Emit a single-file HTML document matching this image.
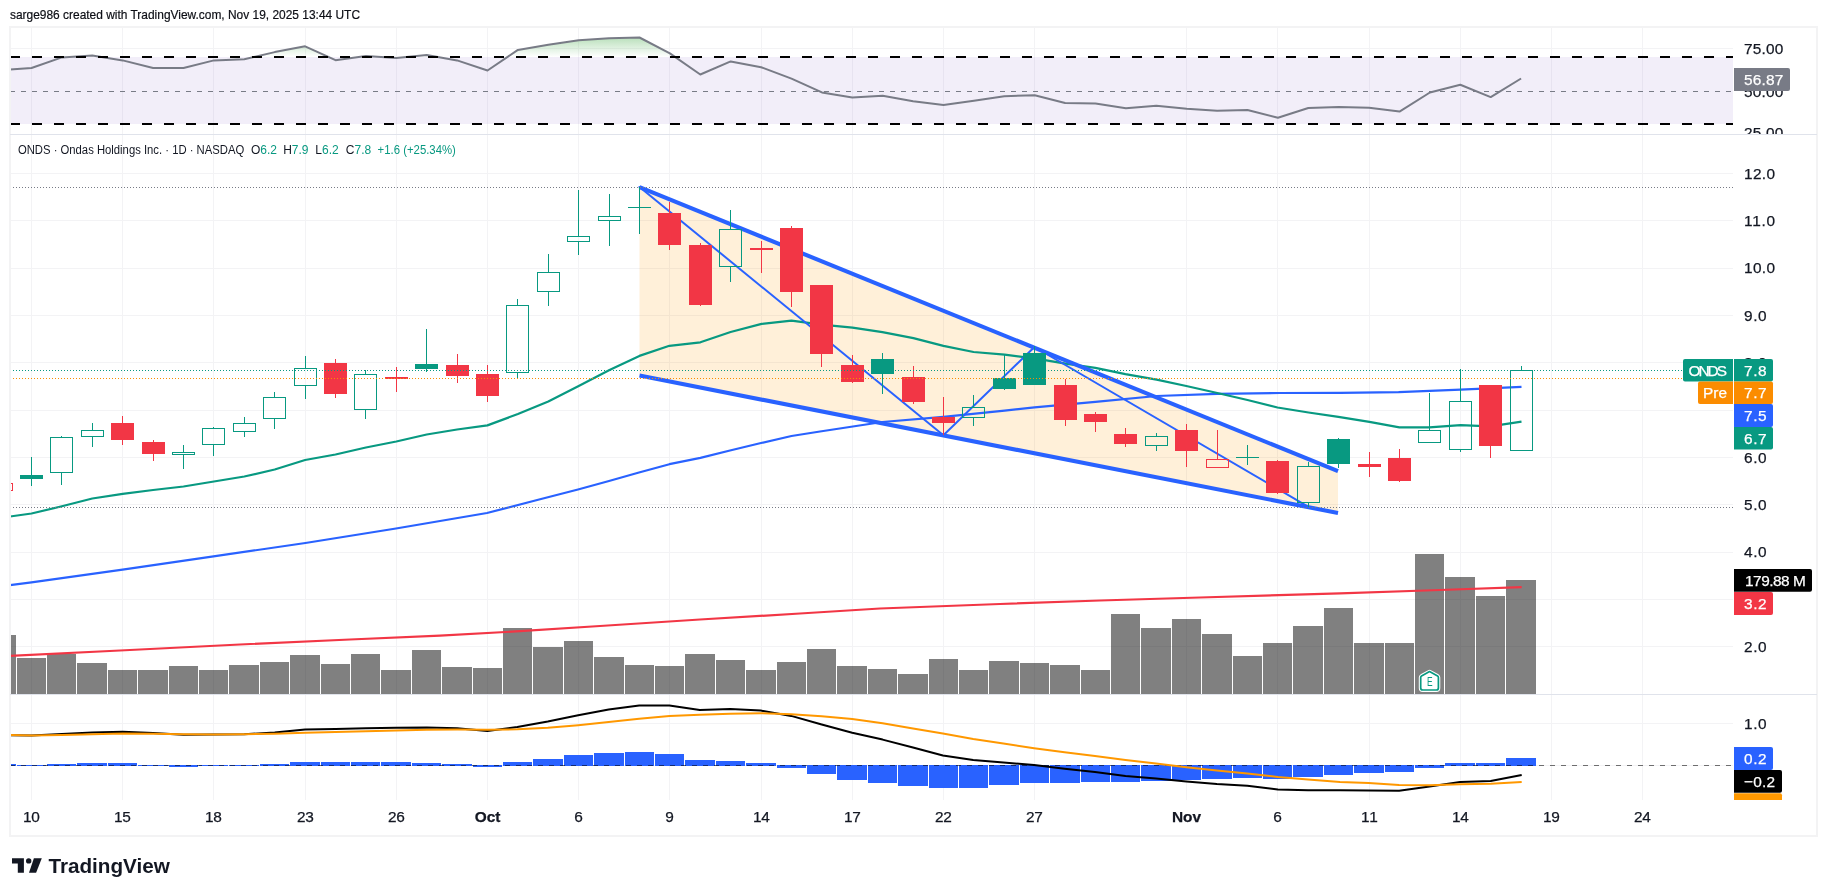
<!DOCTYPE html><html><head><meta charset="utf-8"><title>ONDS chart</title><style>html,body{margin:0;padding:0;background:#fff;width:1827px;height:896px;overflow:hidden}</style></head><body><svg width="1827" height="896" viewBox="0 0 1827 896" style="position:absolute;left:0;top:0;will-change:transform;font-family:'Liberation Sans',sans-serif">
<rect width="1827" height="896" fill="#fff"/>
<defs>
<clipPath id="cp1"><rect x="10" y="27" width="1723" height="107"/></clipPath>
<clipPath id="cp2"><rect x="10" y="134" width="1723" height="560"/></clipPath>
<clipPath id="cp3"><rect x="10" y="694" width="1723" height="106"/></clipPath>
<clipPath id="cax1"><rect x="1733" y="27" width="84" height="107"/></clipPath>
<clipPath id="cax3"><rect x="1733" y="694" width="84" height="106"/></clipPath>
<clipPath id="cpr"><rect x="10" y="27" width="1723" height="30.2"/></clipPath>
<linearGradient id="gg" x1="0" y1="37" x2="0" y2="57" gradientUnits="userSpaceOnUse"><stop offset="0" stop-color="#4caf50" stop-opacity="0.4"/><stop offset="1" stop-color="#4caf50" stop-opacity="0"/></linearGradient>
</defs>
<g fill="#f3f3f5" shape-rendering="crispEdges"><rect x="31" y="27" width="1" height="773"/><rect x="122" y="27" width="1" height="773"/><rect x="213" y="27" width="1" height="773"/><rect x="305" y="27" width="1" height="773"/><rect x="396" y="27" width="1" height="773"/><rect x="487" y="27" width="1" height="773"/><rect x="578" y="27" width="1" height="773"/><rect x="669" y="27" width="1" height="773"/><rect x="761" y="27" width="1" height="773"/><rect x="852" y="27" width="1" height="773"/><rect x="943" y="27" width="1" height="773"/><rect x="1034" y="27" width="1" height="773"/><rect x="1186" y="27" width="1" height="773"/><rect x="1277" y="27" width="1" height="773"/><rect x="1369" y="27" width="1" height="773"/><rect x="1460" y="27" width="1" height="773"/><rect x="1551" y="27" width="1" height="773"/><rect x="1642" y="27" width="1" height="773"/><rect x="10" y="48" width="1723" height="1"/><rect x="10" y="173" width="1723" height="1"/><rect x="10" y="220" width="1723" height="1"/><rect x="10" y="268" width="1723" height="1"/><rect x="10" y="315" width="1723" height="1"/><rect x="10" y="362" width="1723" height="1"/><rect x="10" y="410" width="1723" height="1"/><rect x="10" y="457" width="1723" height="1"/><rect x="10" y="504" width="1723" height="1"/><rect x="10" y="552" width="1723" height="1"/><rect x="10" y="599" width="1723" height="1"/><rect x="10" y="646" width="1723" height="1"/><rect x="10" y="723" width="1723" height="1"/><rect x="10" y="765" width="1723" height="1"/></g>
<g clip-path="url(#cp1)">
<rect x="10" y="57" width="1723" height="67" fill="#7e57c2" fill-opacity="0.1"/>
<g clip-path="url(#cpr)"><polygon points="10.0,69.5 31.5,68.0 61.9,57.4 92.3,55.4 122.7,60.4 153.1,68.0 183.5,68.0 213.9,60.4 244.3,59.2 274.7,52.1 305.1,46.3 335.5,60.2 365.9,55.9 396.3,57.9 426.7,55.1 457.1,60.4 487.5,70.5 517.9,49.9 548.3,44.8 578.7,40.3 609.1,38.3 639.5,37.5 669.9,53.4 700.3,74.5 730.7,61.4 761.1,67.2 791.5,78.6 821.9,92.4 852.3,97.4 882.7,95.7 913.1,101.2 943.5,105.0 973.9,100.7 1004.3,96.2 1034.7,95.2 1065.1,103.0 1095.5,103.5 1125.9,108.3 1156.3,105.7 1186.7,108.8 1217.1,110.8 1247.5,110.0 1277.9,117.8 1308.3,108.0 1338.7,107.0 1369.1,107.8 1399.5,111.6 1429.9,92.5 1460.3,84.7 1490.7,97.1 1521.1,78.5 1521.1,57.2 10,57.2" fill="url(#gg)"/></g>
<polyline points="10.0,69.5 31.5,68.0 61.9,57.4 92.3,55.4 122.7,60.4 153.1,68.0 183.5,68.0 213.9,60.4 244.3,59.2 274.7,52.1 305.1,46.3 335.5,60.2 365.9,55.9 396.3,57.9 426.7,55.1 457.1,60.4 487.5,70.5 517.9,49.9 548.3,44.8 578.7,40.3 609.1,38.3 639.5,37.5 669.9,53.4 700.3,74.5 730.7,61.4 761.1,67.2 791.5,78.6 821.9,92.4 852.3,97.4 882.7,95.7 913.1,101.2 943.5,105.0 973.9,100.7 1004.3,96.2 1034.7,95.2 1065.1,103.0 1095.5,103.5 1125.9,108.3 1156.3,105.7 1186.7,108.8 1217.1,110.8 1247.5,110.0 1277.9,117.8 1308.3,108.0 1338.7,107.0 1369.1,107.8 1399.5,111.6 1429.9,92.5 1460.3,84.7 1490.7,97.1 1521.1,78.5" fill="none" stroke="#787b86" stroke-width="2" stroke-linejoin="round"/>
<line x1="10" y1="91.5" x2="1733" y2="91.5" stroke="#787b86" stroke-width="1" stroke-dasharray="5 6" shape-rendering="crispEdges"/>
<line x1="10" y1="57" x2="1733" y2="57" stroke="#000" stroke-width="2" stroke-dasharray="10 12" shape-rendering="crispEdges"/>
<line x1="10" y1="124" x2="1733" y2="124" stroke="#000" stroke-width="2" stroke-dasharray="10 12" shape-rendering="crispEdges"/>
</g>
<g clip-path="url(#cp2)">
<polygon points="639.5,187.2 1338,471.2 1338,513 639.5,375.6" fill="#ff9800" fill-opacity="0.15"/>
<g fill="#000" fill-opacity="0.498" shape-rendering="crispEdges"><rect x="10" y="634.9" width="6" height="58.7"/><rect x="17" y="657.8" width="29" height="35.8"/><rect x="47" y="653.8" width="29" height="39.8"/><rect x="77" y="662.9" width="30" height="30.7"/><rect x="108" y="669.9" width="29" height="23.7"/><rect x="138" y="669.9" width="30" height="23.7"/><rect x="169" y="665.9" width="29" height="27.7"/><rect x="199" y="669.9" width="29" height="23.7"/><rect x="229" y="664.9" width="30" height="28.7"/><rect x="260" y="661.9" width="29" height="31.7"/><rect x="290" y="655.1" width="30" height="38.5"/><rect x="321" y="663.9" width="29" height="29.7"/><rect x="351" y="653.8" width="29" height="39.8"/><rect x="381" y="669.9" width="30" height="23.7"/><rect x="412" y="649.8" width="29" height="43.8"/><rect x="442" y="666.9" width="30" height="26.7"/><rect x="473" y="667.9" width="29" height="25.7"/><rect x="503" y="628.1" width="29" height="65.5"/><rect x="533" y="647.0" width="30" height="46.6"/><rect x="564" y="641.0" width="29" height="52.6"/><rect x="594" y="656.8" width="30" height="36.8"/><rect x="625" y="664.9" width="29" height="28.7"/><rect x="655" y="665.9" width="29" height="27.7"/><rect x="685" y="653.8" width="30" height="39.8"/><rect x="716" y="659.8" width="29" height="33.8"/><rect x="746" y="669.9" width="30" height="23.7"/><rect x="777" y="661.9" width="29" height="31.7"/><rect x="807" y="649.0" width="29" height="44.6"/><rect x="837" y="665.9" width="30" height="27.7"/><rect x="868" y="668.9" width="29" height="24.7"/><rect x="898" y="673.9" width="30" height="19.7"/><rect x="929" y="658.8" width="29" height="34.8"/><rect x="959" y="669.9" width="29" height="23.7"/><rect x="989" y="660.9" width="30" height="32.7"/><rect x="1020" y="662.9" width="29" height="30.7"/><rect x="1050" y="664.9" width="30" height="28.7"/><rect x="1081" y="669.9" width="29" height="23.7"/><rect x="1111" y="614.0" width="29" height="79.6"/><rect x="1141" y="628.1" width="30" height="65.5"/><rect x="1172" y="619.1" width="29" height="74.5"/><rect x="1202" y="633.9" width="30" height="59.7"/><rect x="1233" y="656.1" width="29" height="37.5"/><rect x="1263" y="643.0" width="29" height="50.6"/><rect x="1293" y="626.1" width="30" height="67.5"/><rect x="1324" y="608.0" width="29" height="85.6"/><rect x="1354" y="643.2" width="30" height="50.4"/><rect x="1385" y="643.2" width="29" height="50.4"/><rect x="1415" y="553.9" width="29" height="139.7"/><rect x="1445" y="576.9" width="30" height="116.7"/><rect x="1476" y="596.1" width="29" height="97.5"/><rect x="1506" y="580.0" width="30" height="113.6"/></g>
<polyline points="10.0,655.8 120.0,650.5 240.0,644.5 350.0,639.5 440.0,635.7 520.0,631.2 600.0,626.0 700.0,619.5 800.0,613.5 880.0,608.5 1000.0,604.0 1100.0,600.5 1200.0,597.5 1340.0,593.4 1440.0,590.0 1521.7,587.2" fill="none" stroke="#f23645" stroke-width="2.2" stroke-linejoin="round"/>
<polyline points="10.0,585.1 31.5,582.3 122.6,569.7 213.5,556.4 305.4,543.0 396.0,528.5 487.0,513.0 537.2,500.0 578.0,489.5 609.0,481.0 639.0,472.5 669.4,464.2 700.4,457.9 730.0,450.5 761.0,443.0 791.5,436.0 820.0,431.5 882.4,422.0 943.4,416.9 1004.6,410.6 1034.5,407.4 1095.4,401.8 1156.6,396.0 1217.3,393.8 1280.0,393.0 1340.0,392.8 1398.6,392.1 1460.6,389.6 1521.5,386.8" fill="none" stroke="#2962ff" stroke-width="2.2" stroke-linejoin="round"/>
<polyline points="10.0,516.5 31.5,513.5 61.9,506.3 92.3,498.5 122.7,493.8 153.1,490.0 183.5,486.5 213.9,481.5 244.3,476.5 274.7,469.5 305.1,460.0 335.5,454.5 365.9,447.5 396.3,441.5 426.7,434.5 457.1,429.5 487.4,425.4 517.9,414.0 548.3,401.5 578.7,386.0 609.5,370.0 639.4,355.9 669.4,345.8 700.4,342.3 730.6,332.0 761.6,323.9 791.5,320.6 821.5,324.7 852.5,327.6 882.4,332.1 913.4,338.1 943.4,345.9 973.6,352.0 1004.6,354.7 1034.5,358.3 1065.5,363.6 1095.4,367.8 1125.4,374.1 1156.6,379.7 1186.3,386.0 1217.3,393.0 1247.5,400.0 1277.5,407.5 1308.5,412.5 1338.4,416.8 1369.4,421.8 1399.4,427.4 1429.3,427.4 1460.6,425.1 1490.3,426.4 1521.5,421.6" fill="none" stroke="#089981" stroke-width="2.2" stroke-linejoin="round"/>
<g stroke="#2962ff" stroke-linecap="round" fill="none">
<polyline points="639.5,187 943.4,435.2 1034.5,347 1308,506.6" stroke-width="2" stroke-linejoin="round"/>
<line x1="639.5" y1="187.2" x2="1338" y2="471.2" stroke-width="4.1" stroke-linecap="butt"/>
<line x1="639.5" y1="375.6" x2="1338" y2="513" stroke-width="4.1" stroke-linecap="butt"/>
</g>
<g shape-rendering="crispEdges"><rect x="-9.5" y="483.5" width="22" height="7" fill="none" stroke="#f23645" stroke-width="1"/><rect x="31" y="457" width="1" height="29" fill="#089981"/><rect x="20" y="475" width="23" height="4" fill="#089981"/><rect x="61" y="436" width="1" height="1" fill="#089981"/><rect x="61" y="473" width="1" height="12" fill="#089981"/><rect x="50.5" y="437.5" width="22" height="35" fill="none" stroke="#089981" stroke-width="1"/><rect x="92" y="423" width="1" height="7" fill="#089981"/><rect x="92" y="437" width="1" height="10" fill="#089981"/><rect x="81.5" y="430.5" width="22" height="6" fill="none" stroke="#089981" stroke-width="1"/><rect x="122" y="416" width="1" height="29" fill="#f23645"/><rect x="111" y="423" width="23" height="17" fill="#f23645"/><rect x="153" y="440" width="1" height="21" fill="#f23645"/><rect x="142" y="442" width="23" height="12" fill="#f23645"/><rect x="183" y="445" width="1" height="7" fill="#089981"/><rect x="183" y="455" width="1" height="14" fill="#089981"/><rect x="172.5" y="452.5" width="22" height="2" fill="none" stroke="#089981" stroke-width="1"/><rect x="213" y="427" width="1" height="1" fill="#089981"/><rect x="213" y="445" width="1" height="11" fill="#089981"/><rect x="202.5" y="428.5" width="22" height="16" fill="none" stroke="#089981" stroke-width="1"/><rect x="244" y="417" width="1" height="6" fill="#089981"/><rect x="244" y="432" width="1" height="5" fill="#089981"/><rect x="233.5" y="423.5" width="22" height="8" fill="none" stroke="#089981" stroke-width="1"/><rect x="274" y="392" width="1" height="5" fill="#089981"/><rect x="274" y="419" width="1" height="10" fill="#089981"/><rect x="263.5" y="397.5" width="22" height="21" fill="none" stroke="#089981" stroke-width="1"/><rect x="305" y="356" width="1" height="12" fill="#089981"/><rect x="305" y="386" width="1" height="13" fill="#089981"/><rect x="294.5" y="368.5" width="22" height="17" fill="none" stroke="#089981" stroke-width="1"/><rect x="335" y="359" width="1" height="39" fill="#f23645"/><rect x="324" y="363" width="23" height="31" fill="#f23645"/><rect x="365" y="370" width="1" height="4" fill="#089981"/><rect x="365" y="410" width="1" height="9" fill="#089981"/><rect x="354.5" y="374.5" width="22" height="35" fill="none" stroke="#089981" stroke-width="1"/><rect x="396" y="367" width="1" height="25" fill="#f23645"/><rect x="385" y="377" width="23" height="2" fill="#f23645"/><rect x="426" y="329" width="1" height="43" fill="#089981"/><rect x="415" y="364" width="23" height="5" fill="#089981"/><rect x="457" y="354" width="1" height="29" fill="#f23645"/><rect x="446" y="365" width="23" height="11" fill="#f23645"/><rect x="487" y="365" width="1" height="37" fill="#f23645"/><rect x="476" y="374" width="23" height="22" fill="#f23645"/><rect x="517" y="299" width="1" height="6" fill="#089981"/><rect x="517" y="373" width="1" height="6" fill="#089981"/><rect x="506.5" y="305.5" width="22" height="67" fill="none" stroke="#089981" stroke-width="1"/><rect x="548" y="254" width="1" height="18" fill="#089981"/><rect x="548" y="292" width="1" height="14" fill="#089981"/><rect x="537.5" y="272.5" width="22" height="19" fill="none" stroke="#089981" stroke-width="1"/><rect x="578" y="190" width="1" height="46" fill="#089981"/><rect x="578" y="242" width="1" height="13" fill="#089981"/><rect x="567.5" y="236.5" width="22" height="5" fill="none" stroke="#089981" stroke-width="1"/><rect x="609" y="194" width="1" height="22" fill="#089981"/><rect x="609" y="221" width="1" height="25" fill="#089981"/><rect x="598.5" y="216.5" width="22" height="4" fill="none" stroke="#089981" stroke-width="1"/><rect x="639" y="187" width="1" height="20" fill="#089981"/><rect x="639" y="208" width="1" height="26" fill="#089981"/><rect x="628" y="207" width="23" height="1" fill="#089981"/><rect x="669" y="202" width="1" height="48" fill="#f23645"/><rect x="658" y="213" width="23" height="32" fill="#f23645"/><rect x="700" y="243" width="1" height="63" fill="#f23645"/><rect x="689" y="245" width="23" height="60" fill="#f23645"/><rect x="730" y="210" width="1" height="19" fill="#089981"/><rect x="730" y="267" width="1" height="15" fill="#089981"/><rect x="719.5" y="229.5" width="22" height="37" fill="none" stroke="#089981" stroke-width="1"/><rect x="761" y="241" width="1" height="32" fill="#f23645"/><rect x="750" y="248" width="23" height="2" fill="#f23645"/><rect x="791" y="226" width="1" height="81" fill="#f23645"/><rect x="780" y="228" width="23" height="64" fill="#f23645"/><rect x="821" y="285" width="1" height="82" fill="#f23645"/><rect x="810" y="285" width="23" height="69" fill="#f23645"/><rect x="852" y="355" width="1" height="28" fill="#f23645"/><rect x="841" y="365" width="23" height="17" fill="#f23645"/><rect x="882" y="353" width="1" height="41" fill="#089981"/><rect x="871" y="359" width="23" height="15" fill="#089981"/><rect x="913" y="366" width="1" height="38" fill="#f23645"/><rect x="902" y="377" width="23" height="25" fill="#f23645"/><rect x="943" y="397" width="1" height="38" fill="#f23645"/><rect x="932" y="417" width="23" height="6" fill="#f23645"/><rect x="973" y="395" width="1" height="12" fill="#089981"/><rect x="973" y="418" width="1" height="8" fill="#089981"/><rect x="962.5" y="407.5" width="22" height="10" fill="none" stroke="#089981" stroke-width="1"/><rect x="1004" y="354" width="1" height="36" fill="#089981"/><rect x="993" y="378" width="23" height="11" fill="#089981"/><rect x="1034" y="346" width="1" height="39" fill="#089981"/><rect x="1023" y="353" width="23" height="32" fill="#089981"/><rect x="1065" y="379" width="1" height="47" fill="#f23645"/><rect x="1054" y="385" width="23" height="35" fill="#f23645"/><rect x="1095" y="412" width="1" height="20" fill="#f23645"/><rect x="1084" y="414" width="23" height="8" fill="#f23645"/><rect x="1125" y="428" width="1" height="19" fill="#f23645"/><rect x="1114" y="434" width="23" height="10" fill="#f23645"/><rect x="1156" y="433" width="1" height="3" fill="#089981"/><rect x="1156" y="446" width="1" height="5" fill="#089981"/><rect x="1145.5" y="436.5" width="22" height="9" fill="none" stroke="#089981" stroke-width="1"/><rect x="1186" y="424" width="1" height="43" fill="#f23645"/><rect x="1175" y="430" width="23" height="21" fill="#f23645"/><rect x="1217" y="430" width="1" height="29" fill="#f23645"/><rect x="1206.5" y="459.5" width="22" height="8" fill="none" stroke="#f23645" stroke-width="1"/><rect x="1247" y="445" width="1" height="12" fill="#089981"/><rect x="1247" y="458" width="1" height="7" fill="#089981"/><rect x="1236" y="457" width="23" height="1" fill="#089981"/><rect x="1277" y="460" width="1" height="34" fill="#f23645"/><rect x="1266" y="461" width="23" height="32" fill="#f23645"/><rect x="1308" y="462" width="1" height="4" fill="#089981"/><rect x="1308" y="503" width="1" height="4" fill="#089981"/><rect x="1297.5" y="466.5" width="22" height="36" fill="none" stroke="#089981" stroke-width="1"/><rect x="1338" y="438" width="1" height="30" fill="#089981"/><rect x="1327" y="439" width="23" height="25" fill="#089981"/><rect x="1369" y="452" width="1" height="25" fill="#f23645"/><rect x="1358" y="464" width="23" height="3" fill="#f23645"/><rect x="1399" y="449" width="1" height="33" fill="#f23645"/><rect x="1388" y="458" width="23" height="23" fill="#f23645"/><rect x="1429" y="393" width="1" height="37" fill="#089981"/><rect x="1418.5" y="430.5" width="22" height="12" fill="none" stroke="#089981" stroke-width="1"/><rect x="1460" y="369" width="1" height="32" fill="#089981"/><rect x="1460" y="450" width="1" height="2" fill="#089981"/><rect x="1449.5" y="401.5" width="22" height="48" fill="none" stroke="#089981" stroke-width="1"/><rect x="1490" y="385" width="1" height="73" fill="#f23645"/><rect x="1479" y="385" width="23" height="61" fill="#f23645"/><rect x="1521" y="366" width="1" height="4" fill="#089981"/><rect x="1510.5" y="370.5" width="22" height="80" fill="none" stroke="#089981" stroke-width="1"/></g>
<line x1="10" y1="187.5" x2="1733" y2="187.5" stroke="#787b86" stroke-width="1" stroke-dasharray="1 2" shape-rendering="crispEdges"/>
<line x1="10" y1="507.5" x2="1733" y2="507.5" stroke="#787b86" stroke-width="1" stroke-dasharray="1 2" shape-rendering="crispEdges"/>
<line x1="10" y1="370.5" x2="1733" y2="370.5" stroke="#089981" stroke-width="1" stroke-dasharray="1 2" shape-rendering="crispEdges"/>
<line x1="10" y1="378.5" x2="1733" y2="378.5" stroke="#fb8c00" stroke-width="1" stroke-dasharray="1 2" shape-rendering="crispEdges"/>
<path d="M1429.55,671.6 L1437.6,676 Q1438.4,676.5 1438.4,677.6 V688 Q1438.4,690 1436.4,690 H1422.7 Q1420.7,690 1420.7,688 V677.6 Q1420.7,676.5 1421.5,676 Z" fill="#fff" stroke="#fff" stroke-width="3.8" stroke-linejoin="round"/>
<path d="M1429.55,671.6 L1437.6,676 Q1438.4,676.5 1438.4,677.6 V688 Q1438.4,690 1436.4,690 H1422.7 Q1420.7,690 1420.7,688 V677.6 Q1420.7,676.5 1421.5,676 Z" fill="#fff" stroke="#089981" stroke-width="1.7" stroke-linejoin="round"/>
<text x="1429.7" y="686" font-size="12.4" text-anchor="middle" fill="#089981" textLength="5.6" lengthAdjust="spacingAndGlyphs">E</text>
</g>
<g clip-path="url(#cp3)">
<g fill="#2962ff" shape-rendering="crispEdges"><rect x="10" y="764" width="6" height="2"/><rect x="17" y="765" width="29" height="1"/><rect x="47" y="764" width="29" height="2"/><rect x="77" y="763" width="30" height="3"/><rect x="108" y="763" width="29" height="3"/><rect x="138" y="765" width="30" height="1"/><rect x="169" y="765" width="29" height="2"/><rect x="199" y="765" width="29" height="1"/><rect x="229" y="765" width="30" height="1"/><rect x="260" y="764" width="29" height="2"/><rect x="290" y="762" width="30" height="4"/><rect x="321" y="762" width="29" height="4"/><rect x="351" y="762" width="29" height="4"/><rect x="381" y="762" width="30" height="4"/><rect x="412" y="763" width="29" height="3"/><rect x="442" y="764" width="30" height="2"/><rect x="473" y="765" width="29" height="2"/><rect x="503" y="762" width="29" height="4"/><rect x="533" y="759" width="30" height="7"/><rect x="564" y="755" width="29" height="11"/><rect x="594" y="753" width="30" height="13"/><rect x="625" y="752" width="29" height="14"/><rect x="655" y="754" width="29" height="12"/><rect x="685" y="760" width="30" height="6"/><rect x="716" y="761" width="29" height="5"/><rect x="746" y="763" width="30" height="3"/><rect x="777" y="765" width="29" height="3"/><rect x="807" y="765" width="29" height="9"/><rect x="837" y="765" width="30" height="15"/><rect x="868" y="765" width="29" height="18"/><rect x="898" y="765" width="30" height="21"/><rect x="929" y="765" width="29" height="23"/><rect x="959" y="765" width="29" height="23"/><rect x="989" y="765" width="30" height="20"/><rect x="1020" y="765" width="29" height="18"/><rect x="1050" y="765" width="30" height="18"/><rect x="1081" y="765" width="29" height="17"/><rect x="1111" y="765" width="29" height="17"/><rect x="1141" y="765" width="30" height="16"/><rect x="1172" y="765" width="29" height="15"/><rect x="1202" y="765" width="30" height="14"/><rect x="1233" y="765" width="29" height="13"/><rect x="1263" y="765" width="29" height="14"/><rect x="1293" y="765" width="30" height="12"/><rect x="1324" y="765" width="29" height="10"/><rect x="1354" y="765" width="30" height="8"/><rect x="1385" y="765" width="29" height="7"/><rect x="1415" y="765" width="29" height="3"/><rect x="1445" y="763" width="30" height="3"/><rect x="1476" y="763" width="29" height="3"/><rect x="1506" y="758" width="30" height="8"/></g>
<line x1="10" y1="765.5" x2="1733" y2="765.5" stroke="#000" stroke-opacity="0.55" stroke-width="1" stroke-dasharray="5 6" shape-rendering="crispEdges"/>
<polyline points="10.0,735.3 31.5,735.6 61.9,734.0 92.3,732.5 122.7,731.8 153.1,733.0 183.5,734.8 213.9,734.6 244.3,734.2 274.7,732.5 305.1,729.5 335.5,729.0 365.9,728.2 396.3,727.8 426.7,727.4 457.1,728.3 487.3,731.0 517.3,727.0 547.8,721.5 578.2,715.2 608.7,709.6 639.2,705.6 669.4,705.6 699.8,709.9 730.3,709.1 760.8,710.6 791.2,715.9 821.7,724.5 852.2,732.8 882.6,739.6 913.0,747.5 942.9,755.5 973.2,760.0 1003.4,762.5 1034.1,765.0 1064.6,768.8 1095.0,772.1 1125.5,776.1 1156.0,778.6 1186.4,781.4 1216.9,783.9 1247.3,785.7 1277.8,789.5 1308.0,790.2 1340.0,790.2 1369.0,790.4 1399.1,790.7 1429.6,786.6 1460.1,782.1 1490.7,781.0 1521.7,774.9" fill="none" stroke="#000" stroke-width="2" stroke-linejoin="round"/>
<polyline points="10.0,735.0 31.5,735.5 61.9,735.0 92.3,734.3 122.7,733.5 153.1,733.8 183.5,734.2 213.9,734.4 244.3,734.3 274.7,733.7 305.1,732.8 335.5,732.0 365.9,731.2 396.3,730.4 426.7,729.8 457.1,729.5 487.3,729.8 517.3,729.3 547.8,727.8 578.2,725.2 608.7,722.0 639.2,718.7 669.4,715.9 699.8,714.7 730.3,713.7 760.8,713.2 791.2,714.2 821.7,716.2 852.2,719.0 882.6,723.2 913.0,728.5 942.9,733.6 973.2,739.1 1003.4,743.6 1034.1,748.2 1064.6,752.2 1095.0,756.0 1125.5,760.0 1156.0,763.5 1186.4,767.3 1216.9,770.6 1247.3,773.6 1277.8,776.9 1308.0,779.4 1340.0,781.9 1368.6,783.0 1399.1,784.9 1429.6,785.2 1460.1,784.3 1490.7,783.8 1521.7,781.9" fill="none" stroke="#ff9800" stroke-width="2" stroke-linejoin="round"/>
</g>
<g fill="#f3f3f4" shape-rendering="crispEdges">
<rect x="9" y="26" width="1809" height="2"/>
<rect x="9" y="835" width="1809" height="2"/>
<rect x="9" y="26" width="2" height="811"/>
<rect x="1816" y="26" width="2" height="811"/>
</g>
<g fill="#e0e3eb" shape-rendering="crispEdges">
<rect x="10" y="134" width="1807" height="1"/>
<rect x="10" y="694" width="1807" height="1"/>
</g>
<g clip-path="url(#cax1)">
<text x="1744" y="53.8" font-size="15.4" fill="#131722" text-anchor="start" font-weight="normal" stroke="#131722" stroke-width="0.25" textLength="39.4" lengthAdjust="spacing">75.00</text>
<text x="1744" y="96.6" font-size="15.4" fill="#131722" text-anchor="start" font-weight="normal" stroke="#131722" stroke-width="0.25" textLength="39.4" lengthAdjust="spacing">50.00</text>
<text x="1744" y="137.6" font-size="15.4" fill="#131722" text-anchor="start" font-weight="normal" stroke="#131722" stroke-width="0.25" textLength="39.4" lengthAdjust="spacing">25.00</text>
</g>
<text x="1744" y="178.6" font-size="15.4" fill="#131722" text-anchor="start" font-weight="normal" stroke="#131722" stroke-width="0.25" textLength="31.0" lengthAdjust="spacing">12.0</text>
<text x="1744" y="225.9" font-size="15.4" fill="#131722" text-anchor="start" font-weight="normal" stroke="#131722" stroke-width="0.25" textLength="31.0" lengthAdjust="spacing">11.0</text>
<text x="1744" y="273.2" font-size="15.4" fill="#131722" text-anchor="start" font-weight="normal" stroke="#131722" stroke-width="0.25" textLength="31.0" lengthAdjust="spacing">10.0</text>
<text x="1744" y="320.5" font-size="15.4" fill="#131722" text-anchor="start" font-weight="normal" stroke="#131722" stroke-width="0.25" textLength="22.6" lengthAdjust="spacing">9.0</text>
<text x="1744" y="367.8" font-size="15.4" fill="#131722" text-anchor="start" font-weight="normal" stroke="#131722" stroke-width="0.25" textLength="22.6" lengthAdjust="spacing">8.0</text>
<text x="1744" y="415.1" font-size="15.4" fill="#131722" text-anchor="start" font-weight="normal" stroke="#131722" stroke-width="0.25" textLength="22.6" lengthAdjust="spacing">7.0</text>
<text x="1744" y="462.5" font-size="15.4" fill="#131722" text-anchor="start" font-weight="normal" stroke="#131722" stroke-width="0.25" textLength="22.6" lengthAdjust="spacing">6.0</text>
<text x="1744" y="509.8" font-size="15.4" fill="#131722" text-anchor="start" font-weight="normal" stroke="#131722" stroke-width="0.25" textLength="22.6" lengthAdjust="spacing">5.0</text>
<text x="1744" y="557.1" font-size="15.4" fill="#131722" text-anchor="start" font-weight="normal" stroke="#131722" stroke-width="0.25" textLength="22.6" lengthAdjust="spacing">4.0</text>
<text x="1744" y="604.4" font-size="15.4" fill="#131722" text-anchor="start" font-weight="normal" stroke="#131722" stroke-width="0.25" textLength="22.6" lengthAdjust="spacing">3.0</text>
<text x="1744" y="651.9" font-size="15.4" fill="#131722" text-anchor="start" font-weight="normal" stroke="#131722" stroke-width="0.25" textLength="22.6" lengthAdjust="spacing">2.0</text>
<g clip-path="url(#cax3)">
<text x="1744" y="729.2" font-size="15.4" fill="#131722" text-anchor="start" font-weight="normal" stroke="#131722" stroke-width="0.25" textLength="22.6" lengthAdjust="spacing">1.0</text>
</g>
<path d="M1734,68 H1788 Q1790,68 1790,70 V89 Q1790,91 1788,91 H1734 Z" fill="#787b86"/>
<text x="1744" y="84.8" font-size="15.4" fill="#fff" text-anchor="start" font-weight="normal" stroke="#fff" stroke-width="0.25" textLength="39.4" lengthAdjust="spacing">56.87</text>
<path d="M1733,359 H1685 Q1683,359 1683,361 V379.5 Q1683,381.5 1685,381.5 H1733 Z" fill="#089981"/>
<text x="1727" y="375.6" font-size="15.4" fill="#fff" text-anchor="end" font-weight="normal" stroke="#fff" stroke-width="0.25" textLength="38.5" lengthAdjust="spacing">ONDS</text>
<path d="M1734,359 H1771 Q1773,359 1773,361 V379.5 Q1773,381.5 1771,381.5 H1734 Z" fill="#089981"/>
<text x="1744" y="375.6" font-size="15.4" fill="#fff" text-anchor="start" font-weight="normal" stroke="#fff" stroke-width="0.25" textLength="22.6" lengthAdjust="spacing">7.8</text>
<path d="M1733,381.5 H1700 Q1698,381.5 1698,383.5 V402 Q1698,404 1700,404 H1733 Z" fill="#fb8c00"/>
<text x="1727" y="398.0" font-size="15.4" fill="#fff" text-anchor="end" font-weight="normal" stroke="#fff" stroke-width="0.25" textLength="23.9" lengthAdjust="spacing">Pre</text>
<path d="M1734,381.5 H1771 Q1773,381.5 1773,383.5 V402 Q1773,404 1771,404 H1734 Z" fill="#fb8c00"/>
<text x="1744" y="398.0" font-size="15.4" fill="#fff" text-anchor="start" font-weight="normal" stroke="#fff" stroke-width="0.25" textLength="22.6" lengthAdjust="spacing">7.7</text>
<path d="M1734,404 H1771 Q1773,404 1773,406 V425 Q1773,427 1771,427 H1734 Z" fill="#2962ff"/>
<text x="1744" y="420.8" font-size="15.4" fill="#fff" text-anchor="start" font-weight="normal" stroke="#fff" stroke-width="0.25" textLength="22.6" lengthAdjust="spacing">7.5</text>
<path d="M1734,427 H1771 Q1773,427 1773,429 V447.5 Q1773,449.5 1771,449.5 H1734 Z" fill="#089981"/>
<text x="1744" y="443.6" font-size="15.4" fill="#fff" text-anchor="start" font-weight="normal" stroke="#fff" stroke-width="0.25" textLength="22.6" lengthAdjust="spacing">6.7</text>
<path d="M1734,569 H1810 Q1812,569 1812,571 V589.7 Q1812,591.7 1810,591.7 H1734 Z" fill="#000"/>
<text x="1745" y="585.6" font-size="15.4" fill="#fff" text-anchor="start" font-weight="normal" stroke="#fff" stroke-width="0.25" textLength="60.8" lengthAdjust="spacing">179.88 M</text>
<path d="M1734,592 H1771 Q1773,592 1773,594 V613 Q1773,615 1771,615 H1734 Z" fill="#f23645"/>
<text x="1744" y="608.8" font-size="15.4" fill="#fff" text-anchor="start" font-weight="normal" stroke="#fff" stroke-width="0.25" textLength="22.6" lengthAdjust="spacing">3.2</text>
<g clip-path="url(#cax3)">
<path d="M1734,747 H1771 Q1773,747 1773,749 V768 Q1773,770 1771,770 H1734 Z" fill="#2962ff"/>
<text x="1744" y="763.8" font-size="15.4" fill="#fff" text-anchor="start" font-weight="normal" stroke="#fff" stroke-width="0.25" textLength="22.6" lengthAdjust="spacing">0.2</text>
<path d="M1734,770 H1780 Q1782,770 1782,772 V790.8 Q1782,792.8 1780,792.8 H1734 Z" fill="#000"/>
<text x="1744" y="786.7" font-size="15.4" fill="#fff" text-anchor="start" font-weight="normal" stroke="#fff" stroke-width="0.25" textLength="31.0" lengthAdjust="spacing">−0.2</text>
<path d="M1734,793.3 H1780 Q1782,793.3 1782,795.3 V814 Q1782,816 1780,816 H1734 Z" fill="#ff9800"/>
<text x="1744" y="809.8" font-size="15.4" fill="#fff" text-anchor="start" font-weight="normal" stroke="#fff" stroke-width="0.25" textLength="31.0" lengthAdjust="spacing">−0.1</text>
</g>
<text x="31.5" y="822.3" font-size="15.4" fill="#131722" text-anchor="middle" font-weight="normal" stroke="#131722" stroke-width="0.25" textLength="16.8" lengthAdjust="spacing">10</text>
<text x="122.5" y="822.3" font-size="15.4" fill="#131722" text-anchor="middle" font-weight="normal" stroke="#131722" stroke-width="0.25" textLength="16.8" lengthAdjust="spacing">15</text>
<text x="213.5" y="822.3" font-size="15.4" fill="#131722" text-anchor="middle" font-weight="normal" stroke="#131722" stroke-width="0.25" textLength="16.8" lengthAdjust="spacing">18</text>
<text x="305.5" y="822.3" font-size="15.4" fill="#131722" text-anchor="middle" font-weight="normal" stroke="#131722" stroke-width="0.25" textLength="16.8" lengthAdjust="spacing">23</text>
<text x="396.5" y="822.3" font-size="15.4" fill="#131722" text-anchor="middle" font-weight="normal" stroke="#131722" stroke-width="0.25" textLength="16.8" lengthAdjust="spacing">26</text>
<text x="487.5" y="822.3" font-size="15.4" fill="#131722" text-anchor="middle" font-weight="bold" stroke="#131722" stroke-width="0.25">Oct</text>
<text x="578.5" y="822.3" font-size="15.4" fill="#131722" text-anchor="middle" font-weight="normal" stroke="#131722" stroke-width="0.25" textLength="8.4" lengthAdjust="spacing">6</text>
<text x="669.5" y="822.3" font-size="15.4" fill="#131722" text-anchor="middle" font-weight="normal" stroke="#131722" stroke-width="0.25" textLength="8.4" lengthAdjust="spacing">9</text>
<text x="761.5" y="822.3" font-size="15.4" fill="#131722" text-anchor="middle" font-weight="normal" stroke="#131722" stroke-width="0.25" textLength="16.8" lengthAdjust="spacing">14</text>
<text x="852.5" y="822.3" font-size="15.4" fill="#131722" text-anchor="middle" font-weight="normal" stroke="#131722" stroke-width="0.25" textLength="16.8" lengthAdjust="spacing">17</text>
<text x="943.5" y="822.3" font-size="15.4" fill="#131722" text-anchor="middle" font-weight="normal" stroke="#131722" stroke-width="0.25" textLength="16.8" lengthAdjust="spacing">22</text>
<text x="1034.5" y="822.3" font-size="15.4" fill="#131722" text-anchor="middle" font-weight="normal" stroke="#131722" stroke-width="0.25" textLength="16.8" lengthAdjust="spacing">27</text>
<text x="1186.5" y="822.3" font-size="15.4" fill="#131722" text-anchor="middle" font-weight="bold" stroke="#131722" stroke-width="0.25">Nov</text>
<text x="1277.5" y="822.3" font-size="15.4" fill="#131722" text-anchor="middle" font-weight="normal" stroke="#131722" stroke-width="0.25" textLength="8.4" lengthAdjust="spacing">6</text>
<text x="1369.5" y="822.3" font-size="15.4" fill="#131722" text-anchor="middle" font-weight="normal" stroke="#131722" stroke-width="0.25" textLength="16.8" lengthAdjust="spacing">11</text>
<text x="1460.5" y="822.3" font-size="15.4" fill="#131722" text-anchor="middle" font-weight="normal" stroke="#131722" stroke-width="0.25" textLength="16.8" lengthAdjust="spacing">14</text>
<text x="1551.5" y="822.3" font-size="15.4" fill="#131722" text-anchor="middle" font-weight="normal" stroke="#131722" stroke-width="0.25" textLength="16.8" lengthAdjust="spacing">19</text>
<text x="1642.5" y="822.3" font-size="15.4" fill="#131722" text-anchor="middle" font-weight="normal" stroke="#131722" stroke-width="0.25" textLength="16.8" lengthAdjust="spacing">24</text>
<text x="10" y="19.4" font-size="13" fill="#0c0e15" stroke="#0c0e15" stroke-width="0.2" textLength="350" lengthAdjust="spacingAndGlyphs">sarge986 created with TradingView.com, Nov 19, 2025 13:44 UTC</text>
<text y="154.2" font-size="12" fill="#131722"><tspan x="17.9" textLength="226.4" lengthAdjust="spacingAndGlyphs">ONDS · Ondas Holdings Inc. · 1D · NASDAQ</tspan><tspan x="250.9">O</tspan><tspan fill="#089981">6.2</tspan><tspan x="283.2">H</tspan><tspan fill="#089981">7.9</tspan><tspan x="315.3">L</tspan><tspan fill="#089981">6.2</tspan><tspan x="345.8">C</tspan><tspan fill="#089981">7.8</tspan><tspan x="377.6" fill="#089981" textLength="78.3" lengthAdjust="spacingAndGlyphs">+1.6 (+25.34%)</tspan></text>
<g fill="#131722"><path d="M12,858.2 H23.9 V872.8 H17.8 V863.5 H12 Z"/><circle cx="28.7" cy="860.9" r="2.7"/><path d="M33.9,858.2 H41.8 L36.1,872.8 H29 Z"/>
<text x="48.4" y="872.8" font-size="20.4" font-weight="bold" textLength="121.5" lengthAdjust="spacingAndGlyphs">TradingView</text></g>
</svg></body></html>
